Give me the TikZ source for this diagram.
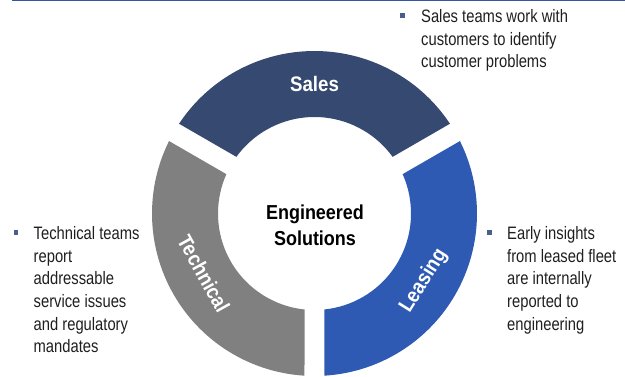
\documentclass[tikz,border=0pt]{standalone}
\usepackage{fontspec}
\setmainfont{Liberation Sans}[FakeStretch=0.82]
\newfontfamily\labelfont{Liberation Sans}[FakeStretch=0.89]
\usetikzlibrary{positioning}

\definecolor{salesblue}{HTML}{364970}
\definecolor{leasingblue}{HTML}{2F5AB4}
\definecolor{techgray}{HTML}{808080}
\definecolor{bulletblue}{HTML}{4A5E8C}
\definecolor{ruleblue}{HTML}{3356A2}
\definecolor{notegray}{HTML}{1F1F1F}

\tikzset{
  segtext/.style={text=white, inner sep=0pt, font=\labelfont\bfseries\fontsize{21}{25}\selectfont},
  notetext/.style={anchor=north west, align=left, inner sep=0pt, text=notegray,
    font=\fontsize{18}{22.6}\selectfont},
  notebullet/.style={fill=bulletblue, minimum size=4.5pt, inner sep=0pt},
}

\begin{document}
\begin{tikzpicture}[x=1pt,y=1pt]
\def \Rout {162.5};
\def \Rin {96.5};
\def \Gap {10};
\pgfmathsetmacro \ao {asin(\Gap/\Rout)}
\pgfmathsetmacro \ai {asin(\Gap/\Rin)}

\useasboundingbox (-314.5,-163.5) rectangle (310.5,213.5);

%le filet du haut
\draw[ruleblue, line width=1.5pt] (-302.5,212.8) -- (310.5,212.8);

%les trois segments de l'anneau
\fill[salesblue] (30+\ao:\Rout) arc[start angle=30+\ao, end angle=150-\ao, radius=\Rout]
  -- (150-\ai:\Rin) arc[start angle=150-\ai, end angle=30+\ai, radius=\Rin] -- cycle;% Sales
\fill[techgray] (150+\ao:\Rout) arc[start angle=150+\ao, end angle=270-\ao, radius=\Rout]
  -- (270-\ai:\Rin) arc[start angle=270-\ai, end angle=150+\ai, radius=\Rin] -- cycle;% Technical
\fill[leasingblue] (270+\ao:\Rout) arc[start angle=270+\ao, end angle=390-\ao, radius=\Rout]
  -- (390-\ai:\Rin) arc[start angle=390-\ai, end angle=270+\ai, radius=\Rin] -- cycle;% Leasing

%les noms des segments
\node[segtext] (sales) at (90:129.5) {Sales};
\node[segtext, rotate=-61] (technical) at (208.5:126) {Technical};
\node[segtext, rotate=58] (leasing) at (-31.7:128.5) {Leasing};

%le centre
\node[align=center, text=black, font=\labelfont\bfseries\fontsize{20.2}{26}\selectfont] (engineered) at (0.5,-11.4) {Engineered\\Solutions};

%les notes
\node[notetext] (salesnote) at (106.5,204) {Sales teams work with\\customers to identify\\customer problems};
\node[notetext] (technote) at (-281,-13) {Technical teams\\report\\addressable\\service issues\\and regulatory\\mandates};
\node[notetext] (leasingnote) at (192.5,-13) {Early insights\\from leased fleet\\are internally\\reported to\\engineering};

\node[notebullet] (salesbullet) at ([xshift=-18.5pt,yshift=-6pt]salesnote.north west) {};
\node[notebullet] (techbullet) at ([xshift=-17.5pt,yshift=-6pt]technote.north west) {};
\node[notebullet] (leasingbullet) at ([xshift=-17.5pt,yshift=-6pt]leasingnote.north west) {};

\end{tikzpicture}
\end{document}
